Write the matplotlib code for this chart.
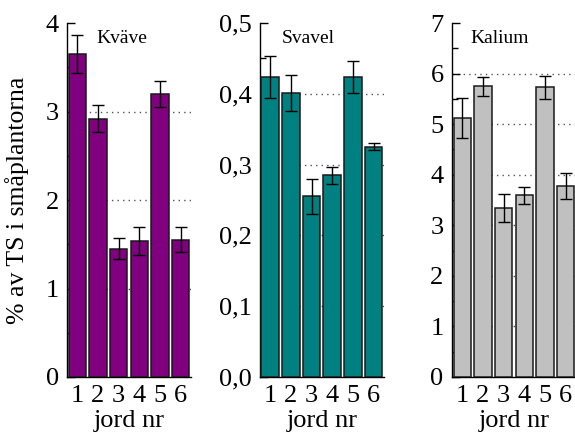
import matplotlib
matplotlib.use("Agg")
import matplotlib.pyplot as plt
from matplotlib.ticker import MultipleLocator

plt.rcParams['font.family'] = ['Liberation Serif', 'DejaVu Serif']

jord = [1, 2, 3, 4, 5, 6]
kvave = [3.65, 2.92, 1.45, 1.54, 3.20, 1.55]
kvave_err = [0.22, 0.15, 0.12, 0.16, 0.15, 0.14]
svavel = [0.424, 0.401, 0.255, 0.285, 0.424, 0.325]
svavel_err = [0.030, 0.025, 0.025, 0.012, 0.023, 0.005]
kalium = [5.12, 5.75, 3.34, 3.59, 5.73, 3.78]
kalium_err = [0.40, 0.19, 0.27, 0.17, 0.23, 0.26]

panels = [
    dict(name="Kväve", vals=kvave, err=kvave_err, color="#800080", ymax=4, major=1, minor=0.5,
         labels=["0", "1", "2", "3", "4"], tx=0.24, left=0.1165),
    dict(name="Svavel", vals=svavel, err=svavel_err, color="#008080", ymax=0.5, major=0.1, minor=0.05,
         labels=["0,0", "0,1", "0,2", "0,3", "0,4", "0,5"], tx=0.18, left=0.452),
    dict(name="Kalium", vals=kalium, err=kalium_err, color="#C0C0C0", ymax=7, major=1, minor=0.5,
         labels=["0", "1", "2", "3", "4", "5", "6", "7"], tx=0.146, left=0.786),
]

fig = plt.figure(figsize=(5.75, 4.37), dpi=100)
for i, p in enumerate(panels):
    ax = fig.add_axes([p["left"], 0.1373, 0.2157, 0.810])
    ax.bar(jord, p["vals"], width=0.85, color=p["color"], edgecolor="#1a1a1a", linewidth=1.1, zorder=3,
           yerr=p["err"], error_kw=dict(ecolor="black", elinewidth=1.0, capsize=4.5, capthick=1.0, zorder=4))
    ax.set_xlim(0.5, 6.5)
    ax.set_ylim(0, p["ymax"])
    n = len(p["labels"])
    ticks = [k * p["major"] for k in range(n)]
    ax.set_yticks(ticks)
    ax.set_yticklabels(p["labels"])
    ax.yaxis.set_minor_locator(MultipleLocator(p["minor"]))
    ax.set_xticks(jord)
    ax.tick_params(axis='y', which='major', direction='in', length=6, width=1, labelsize=19, pad=6)
    ax.tick_params(axis='y', which='minor', direction='in', length=4, width=1)
    ax.tick_params(axis='x', length=0, labelsize=19, pad=6)
    ax.spines['top'].set_visible(False)
    ax.spines['right'].set_visible(False)
    ax.spines['left'].set_linewidth(1.0)
    ax.spines['bottom'].set_linewidth(1.0)
    ax.yaxis.grid(True, linestyle=(0, (1, 3)), color="#555555", linewidth=1.0, zorder=0)
    ax.set_axisbelow(True)
    gl = ax.get_ygridlines()
    gl[0].set_visible(False)
    gl[-1].set_visible(False)
    ax.set_xlabel("jord nr", fontsize=19, labelpad=2)
    ax.text(p["tx"], 0.955, p["name"], transform=ax.transAxes, fontsize=14, va="center", ha="left")
    if i == 0:
        ax.set_ylabel("% av TS i småplantorna", fontsize=18.5, labelpad=12)

fig.savefig("out.png", dpi=100)
